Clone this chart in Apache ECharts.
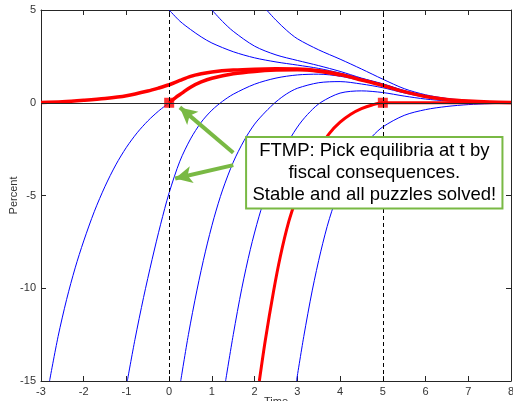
<!DOCTYPE html>
<html><head><meta charset="utf-8">
<script src="https://cdn.jsdelivr.net/npm/echarts@6/dist/echarts.min.js"></script>
<style>html,body{margin:0;padding:0;background:#fff}#c{width:513px;height:401px}</style>
</head><body><div id="c"></div>
<script>
// Upper red equilibrium path
const redMain = [[-3,0.01],[-2.5,0.05],[-2,0.13],[-1.5,0.23],[-1,0.38],[-0.5,0.63],[-0.25,0.79],[0,0.97],[0.25,1.2],[0.5,1.42],[0.75,1.56],[1,1.66],[1.5,1.76],[2,1.81],[2.5,1.83],[3,1.82],[3.5,1.72],[4,1.52],[4.5,1.23],[5,0.93],[5.5,0.6],[6,0.34],[6.5,0.18],[7,0.09],[7.5,0.04],[8,0.02]];
// Red branch starting at the square (0,0)
const redFromZero = [[0,0],[0.15,0.28],[0.3,0.52],[0.5,0.84],[0.75,1.12],[1,1.32],[1.5,1.56],[2,1.69],[2.5,1.76],[3,1.78],[3.5,1.7],[4,1.5]];
// Red branch ending at the square (5,0)
const redToFive = [[2.11,-15],[2.25,-12.8],[2.44,-10.2],[2.6,-8.3],[2.8,-6.4],[3,-5.0],[3.25,-3.5],[3.5,-2.5],[3.75,-1.65],[4,-1.05],[4.25,-0.62],[4.5,-0.32],[4.75,-0.12],[5,0],[6,0],[7,0],[8,0]];
// Blue solution paths
const blueUp1 = [[0,5],[0.25,4.4],[0.5,3.95],[0.75,3.55],[1,3.22],[1.5,2.75],[2,2.42],[2.5,2.2],[3,2.03],[3.5,1.85],[4,1.6],[4.5,1.3],[5,1.0],[5.5,0.64],[6,0.37],[6.5,0.2],[7,0.1],[7.5,0.05],[8,0.02]];
const blueUp2 = [[1,5],[1.25,4.38],[1.5,3.85],[2,3.05],[2.5,2.58],[3,2.28],[3.5,2.0],[4,1.69],[4.5,1.33],[5,1.02],[5.5,0.66],[6,0.38],[6.5,0.21],[7,0.11],[7.5,0.05],[8,0.02]];
const blueUp3 = [[2.28,5],[2.5,4.45],[2.75,3.9],[3,3.45],[3.5,2.85],[4,2.35],[4.5,1.82],[5,1.27],[5.5,0.76],[6,0.43],[6.5,0.23],[7,0.12],[7.5,0.06],[8,0.03]];
const blueLow1 = [[-2.8,-15],[-2.6,-12.6],[-2.4,-10.6],[-2.2,-8.9],[-2,-7.45],[-1.75,-5.85],[-1.5,-4.5],[-1.25,-3.35],[-1,-2.4],[-0.75,-1.62],[-0.5,-0.98],[-0.25,-0.45],[0,0]];
const blueLow2 = [[-0.98,-15],[-0.8,-12.75],[-0.6,-10.5],[-0.4,-8.45],[-0.2,-6.55],[0,-4.85],[0.25,-3.15],[0.5,-1.95],[0.75,-1.05],[1,-0.4],[1.25,0.08],[1.5,0.46],[2,1.0],[2.5,1.33],[3,1.5],[3.5,1.54],[4,1.43],[4.5,1.19],[5,0.91],[5.5,0.58],[6,0.33],[6.5,0.17],[7,0.09],[7.5,0.04],[8,0.02]];
const blueLow3 = [[0.27,-15],[0.45,-12.5],[0.65,-10.1],[0.85,-8.0],[1.05,-6.2],[1.25,-4.7],[1.5,-3.2],[1.75,-2.05],[2,-1.15],[2.25,-0.5],[2.5,0.05],[2.75,0.48],[3,0.78],[3.5,1.08],[4,1.14],[4.5,1.01],[5,0.81],[5.5,0.53],[6,0.3],[6.5,0.16],[7,0.08],[7.5,0.04],[8,0.02]];
const blueLow4 = [[1.32,-15],[1.5,-12.5],[1.7,-10.0],[1.9,-7.9],[2.1,-6.15],[2.3,-4.7],[2.55,-3.2],[2.8,-2.05],[3.05,-1.15],[3.3,-0.48],[3.55,0.02],[4,0.52],[4.5,0.64],[5,0.55],[5.5,0.36],[6,0.2],[6.5,0.1],[7,0.05],[7.5,0.02],[8,0.01]];
const blueLow5 = [[2.98,-15],[3.15,-12.6],[3.35,-10.1],[3.55,-8.0],[3.75,-6.25],[4,-4.6],[4.25,-3.4],[4.5,-2.5],[4.75,-1.82],[5,-1.3],[5.5,-0.68],[6,-0.37],[6.5,-0.2],[7,-0.1],[7.5,-0.05],[8,-0.02]];
// Selected equilibria markers
const squares = [[0,0],[5,0]];
// Vertical dashed reference times
const refTimes = [0,5];
// Arrows (tail -> tip) in data units
const arrows = [[[1.5,-2.7],[0.25,-0.25]],[[1.5,-3.36],[0.14,-4.08]]];
const noteLines = ['FTMP: Pick equilibria at t by','fiscal consequences.','Stable and all puzzles solved!'];

const axisCol = '#262626';
const ff = '"Liberation Sans", Arial, Helvetica, sans-serif';
const chart = echarts.init(document.getElementById('c'));
function line(data, color, width, z){
  return {type:'line', data, showSymbol:false, smooth:0.3, clip:true, silent:true,
    lineStyle:{color, width}, itemStyle:{color}, z};
}
const series = [
  {type:'line', data:[], silent:true, z:1,
   markLine:{silent:true, symbol:['none','none'], label:{show:false},
     lineStyle:{color:axisCol, width:1, type:'solid'}, data:[{yAxis:0}]}},
  {type:'line', data:[], silent:true, z:1,
   markLine:{silent:true, symbol:['none','none'], label:{show:false},
     lineStyle:{color:'#000', width:1, type:[4,3]}, data:refTimes.map(t=>({xAxis:t}))}},
  line(blueUp1,'#0000ff',1,2), line(blueUp2,'#0000ff',1,2), line(blueUp3,'#0000ff',1,2),
  line(blueLow1,'#0000ff',1,2), line(blueLow2,'#0000ff',1,2), line(blueLow3,'#0000ff',1,2),
  line(blueLow4,'#0000ff',1,2), line(blueLow5,'#0000ff',1,2),
  line(redMain,'#ff0000',3.5,3), line(redFromZero,'#ff0000',3.5,3), line(redToFive,'#ff0000',3,3),
  {type:'scatter', data:squares, symbol:'rect', symbolSize:10, itemStyle:{color:'#ff0000'}, z:4, silent:true},
  {type:'line', data:[], silent:true, z:10,
   markLine:{silent:true, symbol:['none','arrow'], symbolSize:[13,17], label:{show:false},
     lineStyle:{color:'#79b944', width:4, type:'solid'},
     data:arrows.map(a=>[{coord:a[0]},{coord:a[1]}])}}
];
chart.setOption({
  animation:false,
  grid:{left:41, right:2, top:10, bottom:20, containLabel:false, outerBoundsMode:'none'},
  xAxis:[
    {type:'value', min:-3, max:8, interval:1, position:'bottom',
     axisLine:{onZero:false, lineStyle:{color:axisCol, width:1}},
     axisTick:{inside:true, length:5, lineStyle:{color:axisCol}},
     axisLabel:{color:'#333', fontSize:11, fontFamily:ff, margin:5},
     splitLine:{show:false},
     name:'Time', nameLocation:'middle', nameGap:15, nameMoveOverlap:false,
     nameTextStyle:{color:'#333', fontSize:11, fontFamily:ff, verticalAlign:'top'}},
    {type:'value', min:-3, max:8, interval:1, position:'top',
     axisLine:{onZero:false, lineStyle:{color:axisCol, width:1}},
     axisTick:{inside:true, length:5, lineStyle:{color:axisCol}},
     axisLabel:{show:false}, splitLine:{show:false}}
  ],
  yAxis:[
    {type:'value', min:-15, max:5, interval:5, position:'left',
     axisLine:{show:true, onZero:false, lineStyle:{color:axisCol, width:1}},
     axisTick:{show:true, inside:true, length:5, lineStyle:{color:axisCol}},
     axisLabel:{color:'#333', fontSize:11, fontFamily:ff, margin:5},
     splitLine:{show:false},
     name:'Percent', nameLocation:'middle', nameGap:22, nameMoveOverlap:false,
     nameTextStyle:{color:'#333', fontSize:11, fontFamily:ff}},
    {type:'value', min:-15, max:5, interval:5, position:'right',
     axisLine:{show:true, onZero:false, lineStyle:{color:axisCol, width:1}},
     axisTick:{show:true, inside:true, length:5, lineStyle:{color:axisCol}},
     axisLabel:{show:false}, splitLine:{show:false}}
  ],
  series
});
// Annotation box anchored to data coordinates
const tl = chart.convertToPixel({xAxisIndex:0, yAxisIndex:0}, [1.8,-1.85]);
const br = chart.convertToPixel({xAxisIndex:0, yAxisIndex:0}, [7.8,-5.7]);
chart.setOption({
  graphic:[
    {type:'rect', z:20, shape:{x:tl[0], y:tl[1], width:br[0]-tl[0], height:br[1]-tl[1]},
     style:{fill:'#fff', stroke:'#79b944', lineWidth:2}},
    {type:'text', z:21, x:(tl[0]+br[0])/2, y:(tl[1]+br[1])/2,
     style:{text:noteLines.join('\n'), fill:'#000', font:'18.5px "Liberation Sans", Arial, sans-serif',
       align:'center', verticalAlign:'middle', lineHeight:22}}
  ]
});
</script></body></html>
